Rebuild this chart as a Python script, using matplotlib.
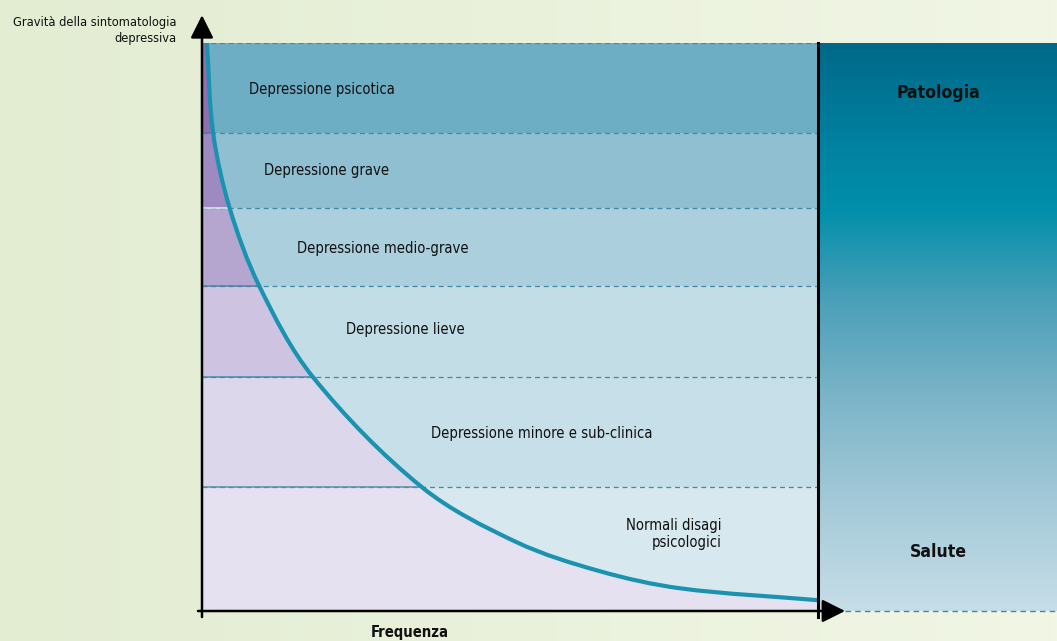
import numpy as np
import matplotlib
matplotlib.use('Agg')
import matplotlib.pyplot as plt
from matplotlib import font_manager as fm
from matplotlib.colors import LinearSegmentedColormap
from matplotlib.patches import Rectangle, PathPatch
from matplotlib.path import Path

# ---------------- data ----------------
band_labels = ["Depressione psicotica", "Depressione grave", "Depressione medio-grave",
               "Depressione lieve", "Depressione minore e sub-clinica",
               "Normali disagi\npsicologici"]
# severity boundaries of the bands (0-100 scale, top to bottom)
band_edges = [100, 84.2, 70.9, 57.2, 41.2, 21.8, 0]
# frequency / severity curve
curve_freq = [0.8, 1.8, 4.5, 9.3, 18.0, 35.7, 51.1, 64.6, 77.6, 100.0]
curve_sev = [100, 84.2, 70.9, 57.2, 41.2, 21.8, 12.1, 7.0, 4.0, 1.9]
y_axis_label = "Gravità della sintomatologia\ndepressiva"
x_axis_label = "Frequenza"
panel_top_label = "Patologia"
panel_bottom_label = "Salute"

# ---------------- style ----------------
purple = ['#8e70ae', '#9e89c0', '#b4a6cf', '#cec4e1', '#ddd7eb', '#e6e1f0']
blue = ['#6eaec5', '#8fbfd1', '#abcfdc', '#c3dde7', '#c6dfe8', '#d8e8ef']
solid_line_cols = ['#4a7fa6', '#e4eaf2', '#4f7fa8', '#4d88a8', '#5a8fab']
label_pos = [(19.5, 91.9, 'center'), (20.3, 77.6, 'center'), (29.4, 63.9, 'center'),
             (33.0, 49.5, 'center'), (55.2, 31.3, 'center'), (84.4, 13.5, 'right')]
teal_dash = '#3f8aa8'

# font choice: a condensed sans if one is available
_fonts = fm.fontManager.ttflist
if any(f.name == 'Liberation Sans Narrow' for f in _fonts):
    FAMILY, STRETCH, SCALE = ['Liberation Sans Narrow', 'DejaVu Sans'], 'normal', 1.0
elif any(f.name == 'DejaVu Sans' and f.stretch == 'condensed' for f in _fonts):
    FAMILY, STRETCH, SCALE = ['DejaVu Sans'], 'condensed', 0.97
else:
    FAMILY, STRETCH, SCALE = ['Liberation Sans', 'DejaVu Sans'], 'normal', 0.98
plt.rcParams['font.family'] = FAMILY
plt.rcParams['font.stretch'] = STRETCH

W, H = 1057, 641
PX_X, PX_Y = 6.16, 5.68   # pixels per data unit (for chord lengths only)


def smooth_path(xs, ys):
    """Chord-length Catmull-Rom curve through the read points, as cubic Bezier segments."""
    P = np.column_stack([xs, ys]).astype(float)
    Q = P * [PX_X, PX_Y]
    n = len(P)
    t = np.concatenate([[0], np.cumsum(np.hypot(*np.diff(Q, axis=0).T))])
    m = np.zeros_like(P)
    for i in range(n):
        a, b = max(i - 1, 0), min(i + 1, n - 1)
        m[i] = (P[b] - P[a]) / (t[b] - t[a])
    verts = [P[0]]
    codes = [Path.MOVETO]
    for i in range(n - 1):
        h = t[i + 1] - t[i]
        verts += [P[i] + m[i] * h / 3, P[i + 1] - m[i + 1] * h / 3, P[i + 1]]
        codes += [Path.CURVE4] * 3
    return verts, codes


fig = plt.figure(figsize=(W / 100, H / 100), dpi=100)

# background gradient
bg = fig.add_axes([0, 0, 1, 1])
bg.set_axis_off()
bg.imshow(np.linspace(0, 1, 256).reshape(1, -1), aspect='auto', extent=[0, 1, 0, 1],
          cmap=LinearSegmentedColormap.from_list('bg', ['#e3edd2', '#f1f6e5']))
bg.set_xlim(0, 1); bg.set_ylim(0, 1)

# right panel
pax = fig.add_axes([818 / W, 30 / H, 239 / W, 568 / H])
pax.set_axis_off()
panel_cmap = LinearSegmentedColormap.from_list('panel', [
    (0.0, '#c6dee8'), (0.19, '#a4c9d8'), (0.37, '#7db5c9'), (0.55, '#4a9fb8'),
    (0.71, '#008fab'), (0.81, '#0083a1'), (1.0, '#00698a')])
pax.imshow(np.linspace(1, 0, 256).reshape(-1, 1), aspect='auto', extent=[0, 1, 0, 1],
           cmap=panel_cmap, vmin=0, vmax=1)
pax.set_xlim(0, 1); pax.set_ylim(0, 1)
pax.text(0.502, 0.912, panel_top_label, ha='center', va='center', fontsize=13 * SCALE,
         fontweight='bold', color='#111111')
pax.text(0.502, 0.104, panel_bottom_label, ha='center', va='center', fontsize=13 * SCALE,
         fontweight='bold', color='#111111')

# main area
ax = fig.add_axes([202 / W, 30 / H, 616 / W, 568 / H])
ax.set_xlim(0, 100); ax.set_ylim(0, 100)
ax.set_axis_off()

cverts, ccodes = smooth_path(curve_freq, curve_sev)
clip_verts = cverts + [(100, 0), (0, 0), (0, 100), (0, 0)]
clip_codes = ccodes + [Path.LINETO, Path.LINETO, Path.LINETO, Path.CLOSEPOLY]
clip_patch = PathPatch(Path(clip_verts, clip_codes), transform=ax.transData)

for i in range(len(band_labels)):
    top, bot = band_edges[i], band_edges[i + 1]
    ax.add_patch(Rectangle((0, bot), 100, top - bot, fc=blue[i], ec='none', zorder=1))
    r = Rectangle((0, bot), 100, top - bot, fc=purple[i], ec='none', zorder=1.5)
    ax.add_patch(r)
    r.set_clip_path(clip_patch)

ax.plot([0, 100], [100, 100], ls=(0, (4, 3)), lw=0.9, color=teal_dash, zorder=2)
for j, e in enumerate(band_edges[1:-1]):
    ax.plot([0, 100], [e, e], ls=(0, (4, 3)), lw=0.9, color=teal_dash, zorder=2)
    ln, = ax.plot([0, 100], [e, e], lw=1.1, color=solid_line_cols[j], zorder=2.5)
    ln.set_clip_path(clip_patch)

for lab, (x, y, ha) in zip(band_labels, label_pos):
    ax.text(x, y, lab, ha=ha, va='center', fontsize=11 * SCALE, color='#111111',
            multialignment='right' if ha == 'right' else 'center', linespacing=1.15)

ax.add_patch(PathPatch(Path(cverts, ccodes), fill=False, ec='#1a93b1', lw=3,
                       zorder=4, clip_on=False, capstyle='butt', joinstyle='round'))

# vertical black separator
ax.plot([100, 100], [-1.06, 100], color='black', lw=2.2, clip_on=False, zorder=5)

# bottom dashed line under the panel
ax.plot([104.4, 140], [0, 0], ls=(0, (4, 3)), lw=1.0, color=teal_dash,
        clip_on=False, zorder=5)

# axes arrows
arrow = dict(arrowstyle='-|>,head_length=0.7,head_width=0.35', color='black', lw=1.8,
             shrinkA=0, shrinkB=0, mutation_scale=20)
ax.annotate('', xy=(0, 104.9), xytext=(0, -1.06), arrowprops=arrow,
            annotation_clip=False, zorder=6)
ax.annotate('', xy=(104.4, 0), xytext=(-0.65, 0), arrowprops=arrow,
            annotation_clip=False, zorder=6)

ax.text(-4.06, 102.2, y_axis_label, ha='right', va='center', fontsize=9.5 * SCALE,
        color='#111111', multialignment='right', linespacing=1.3)
ax.text(33.8, -3.7, x_axis_label, ha='center', va='center', fontsize=11 * SCALE,
        fontweight='bold', color='#111111', clip_on=False)

fig.savefig('out.png', dpi=100)
